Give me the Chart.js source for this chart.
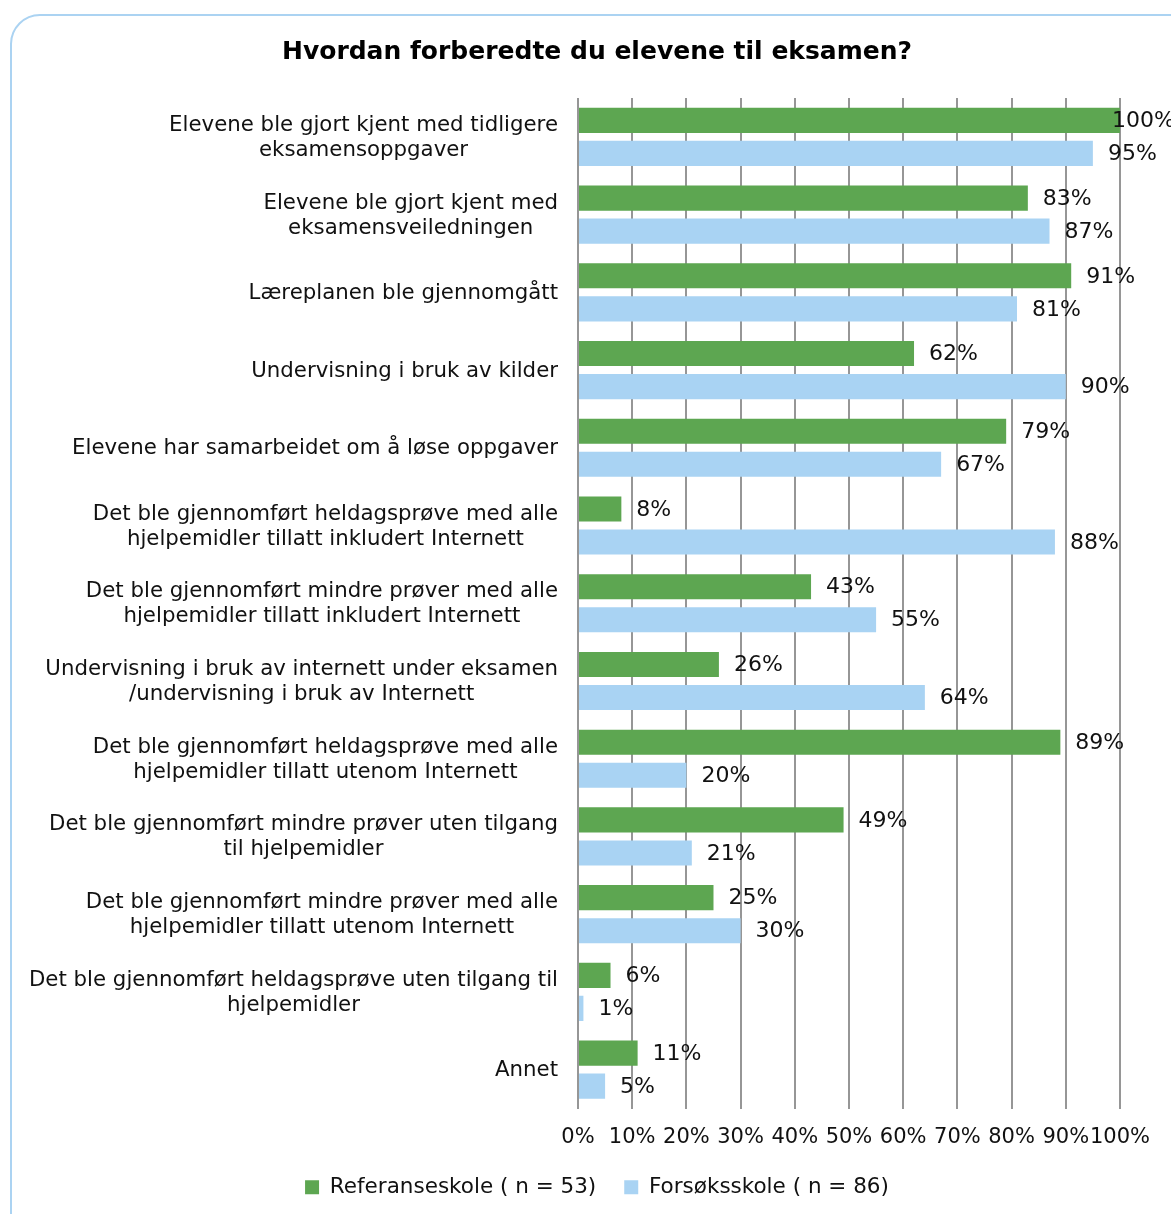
<!DOCTYPE html>
<html>
<head>
<meta charset="utf-8">
<script src="https://cdn.jsdelivr.net/npm/chart.js@4.4.1/dist/chart.umd.min.js"></script>
<style>
  html, body { margin: 0; padding: 0; background: #fff; overflow: hidden; }
  #frame {
    position: absolute; left: 10px; top: 14px; width: 1220px; height: 1260px;
    border: 2px solid #abd3f2; border-radius: 30px; box-sizing: border-box;
  }
  #wrap { position: absolute; left: 0; top: 0; width: 1171px; height: 1214px; }
</style>
</head>
<body>
<div id="frame"></div>
<div id="wrap"><canvas id="prep-chart"></canvas></div>
<script>
// categories (wrapped as in the original)
const categories = [
  ["Elevene ble gjort kjent med tidligere", "eksamensoppgaver"],
  ["Elevene ble gjort kjent med", "eksamensveiledningen"],
  ["Læreplanen ble gjennomgått"],
  ["Undervisning i bruk av kilder"],
  ["Elevene har samarbeidet om å løse oppgaver"],
  ["Det ble gjennomført heldagsprøve med alle", "hjelpemidler tillatt inkludert Internett"],
  ["Det ble gjennomført mindre prøver med alle", "hjelpemidler tillatt inkludert Internett"],
  ["Undervisning i bruk av internett under eksamen", "/undervisning i bruk av Internett"],
  ["Det ble gjennomført heldagsprøve med alle", "hjelpemidler tillatt utenom Internett"],
  ["Det ble gjennomført mindre prøver uten tilgang", "til hjelpemidler"],
  ["Det ble gjennomført mindre prøver med alle", "hjelpemidler tillatt utenom Internett"],
  ["Det ble gjennomført heldagsprøve uten tilgang til", "hjelpemidler"],
  ["Annet"]
];
const referanse = [100, 83, 91, 62, 79, 8, 43, 26, 89, 49, 25, 6, 11];
const forsok = [95, 87, 81, 90, 67, 88, 55, 64, 20, 21, 30, 1, 5];
const xTicks = [0, 10, 20, 30, 40, 50, 60, 70, 80, 90, 100];

const FONT = "'DejaVu Sans', Verdana, sans-serif";

// value labels to the right of each bar
const valueLabels = {
  id: "valueLabels",
  afterDatasetsDraw(chart) {
    const ctx = chart.ctx;
    ctx.save();
    ctx.font = "22px " + FONT;
    ctx.fillStyle = "#111";
    ctx.textBaseline = "middle";
    ctx.textAlign = "left";
    chart.data.datasets.forEach((ds, di) => {
      chart.getDatasetMeta(di).data.forEach((bar, i) => {
        const txt = ds.data[i] + "%";
        const w = ctx.measureText(txt).width;
        let x = bar.x + 15;
        if (x + w > chart.width) x = chart.width + 4 - w;
        ctx.fillText(txt, x, bar.y + 1);
      });
    });
    ctx.restore();
  }
};

// category labels: block right aligned, lines centred within the block
const categoryLabels = {
  id: "categoryLabels",
  afterDraw(chart) {
    const ctx = chart.ctx;
    const y = chart.scales.y;
    const right = chart.chartArea.left - 20;
    ctx.save();
    ctx.font = "21.3px " + FONT;
    ctx.fillStyle = "#111";
    ctx.textBaseline = "middle";
    ctx.textAlign = "center";
    categories.forEach((lines, i) => {
      const bw = Math.max(...lines.map(l => ctx.measureText(l).width));
      const cx = right - bw / 2;
      const cy = y.getPixelForValue(i);
      lines.forEach((l, k) => {
        ctx.fillText(l, cx, cy + 1 + (k - (lines.length - 1) / 2) * 25);
      });
    });
    ctx.restore();
  }
};

const config = {
  type: "bar",
  data: {
    labels: categories,
    datasets: [
      {
        label: "Referanseskole ( n = 53)",
        data: referanse,
        backgroundColor: "#5da651",
        categoryPercentage: 0.85,
        barPercentage: 0.76
      },
      {
        label: "Forsøksskole ( n = 86)",
        data: forsok,
        backgroundColor: "#a9d3f3",
        categoryPercentage: 0.85,
        barPercentage: 0.76
      }
    ]
  },
  options: {
    indexAxis: "y",
    responsive: true,
    maintainAspectRatio: false,
    animation: false,
    layout: { padding: { left: 73, right: 50, top: 0, bottom: 6 } },
    scales: {
      x: {
        min: 0,
        max: 100,
        afterBuildTicks: (s) => { s.ticks = xTicks.map(v => ({ value: v })); },
        ticks: {
          callback: (v) => v + "%",
          font: { family: FONT, size: 21, lineHeight: 0.8 },
          color: "#111",
          padding: 21,
          autoSkip: false,
          maxRotation: 0
        },
        grid: { color: "#969696", lineWidth: 2, drawTicks: false },
        border: { display: false },
        afterFit: (s) => { s.height = 40; }
      },
      y: {
        ticks: { display: false },
        grid: { display: false },
        border: { display: false },
        afterFit: (s) => { s.width = 505; }
      }
    },
    plugins: {
      title: {
        display: true,
        text: "Hvordan forberedte du elevene til eksamen?",
        font: { family: FONT, size: 25, weight: "bold" },
        color: "#000",
        padding: { top: 37, bottom: 31 }
      },
      legend: {
        position: "bottom",
        labels: {
          font: { family: FONT, size: 21.5 },
          color: "#111",
          boxWidth: 14,
          boxHeight: 14,
          padding: 28
        }
      },
      tooltip: { enabled: false }
    }
  },
  plugins: [valueLabels, categoryLabels]
};

const prepChart = new Chart(document.getElementById("prep-chart"), config);
</script>
</body>
</html>
